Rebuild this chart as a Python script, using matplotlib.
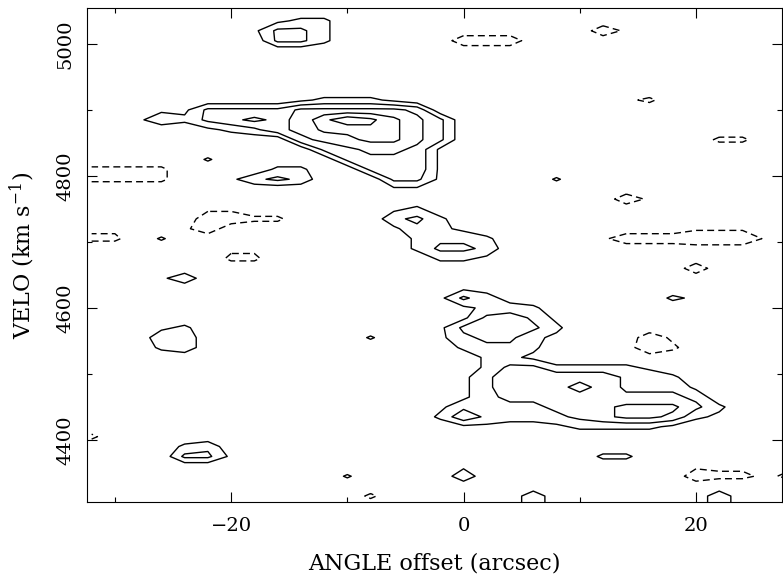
import matplotlib
matplotlib.use('Agg')
import matplotlib.pyplot as plt
from matplotlib.ticker import MultipleLocator
import numpy as np

plt.rcParams['font.family'] = ['DejaVu Serif']
plt.rcParams['mathtext.fontset'] = 'dejavuserif'

# PV slice grid
# ----------------------------------------------------------------------------

angle = np.arange(-32, 30, 2)          # angle offset [arcsec], 31 columns
velo = np.arange(5065, 4299, -15)      # velocity [km/s], 52 channels, top first

# Intensity per channel, one character per angle pixel
# '.' = 0, digits = value, A/B = 10/11, p = 1.8, z/a/b/c = -1/-2/-3/-4
pv_rows = [
    "...............................",
    "...............................",
    "........122....................",
    ".......1442...........bz.......",
    "........442.....bbb............",
    "...............................",
    "...............................",
    "...............................",
    "...............................",
    "...............................",
    ".........12221.........za......",
    "...114444666665................",
    "..132456569BA864...............",
    ".....12356889864...............",
    ".........5678864...........aa..",
    "..........456651...............",
    ".....p.....45551...............",
    "aaaa....22..4551...............",
    "aaaa..1343...441....p..........",
    ".............11................",
    ".......................bz......",
    ".....zz......12................",
    ".....bbaa....342...............",
    "zz..zb.......1321.........zzz..",
    "aa.p..........2332....zbbbcccz.",
    "......zz......2443.............",
    "......aa.......221.............",
    "..........................b....",
    "...13..........................",
    "................11.............",
    "...............1421......21....",
    "................1222...........",
    "................14531..........",
    "...12..........145542..........",
    "...33.......p..134421...bz.....",
    "...23...........2332....ca.....",
    ".................221...........",
    ".................24422221......",
    "................1355555332.....",
    "................13555653331....",
    "................13445554443....",
    "...............1333344566642...",
    "...............2532234566521...",
    "................1111122221.....",
    "a..............................",
    "....23.........................",
    "....441...............22.......",
    "................1.........zzzzz",
    "...........p....3.........baaza",
    "...............................",
    "............a......3.......3...",
    "...................3.......3...",
]

pos_levels = [1.5, 3.5, 5.5, 7.5, 9.5]
neg_levels = [-1.5]

codes = {'.': 0.0, 'p': 1.8, 'z': -1.0, 'a': -2.0, 'b': -3.0, 'c': -4.0,
         'A': 10.0, 'B': 11.0}
for d in '123456789':
    codes[d] = float(d)

pv = np.array([[codes[c] for c in row] for row in pv_rows])

# Plot
# ----------------------------------------------------------------------------

fig = plt.figure(figsize=(7.83, 5.82), dpi=100)
ax = fig.add_axes([0.1111, 0.1375, 0.8876, 0.8488])

ax.contour(angle, velo, pv, levels=pos_levels, colors='k', linewidths=1.0)
ax.contour(angle, velo, pv, levels=neg_levels, colors='k', linewidths=1.0,
           linestyles=[(0, (5, 3))])

ax.set_xlim(-32.4, 27.4)
ax.set_ylim(4306, 5054.5)

ax.xaxis.set_major_locator(MultipleLocator(20))
ax.xaxis.set_minor_locator(MultipleLocator(10))
ax.yaxis.set_major_locator(MultipleLocator(200))
ax.yaxis.set_minor_locator(MultipleLocator(100))

ax.tick_params(which='both', direction='in', top=True, right=True, width=0.8,
               labelsize=14)
ax.tick_params(which='major', length=7.2)
ax.tick_params(which='minor', length=3.6)
ax.tick_params(axis='x', pad=11)
ax.tick_params(axis='y', pad=9, labelrotation=90)
for lab in ax.get_yticklabels():
    lab.set_va('center')

for s in ax.spines.values():
    s.set_linewidth(0.8)

ax.set_xlabel('ANGLE offset (arcsec)', fontsize=16)
ax.set_ylabel('VELO (km s$^{-1}$)', fontsize=16)
ax.xaxis.set_label_coords(0.5, -0.102)
ax.yaxis.set_label_coords(-0.072, 0.5)

fig.savefig('out.png', dpi=100)
